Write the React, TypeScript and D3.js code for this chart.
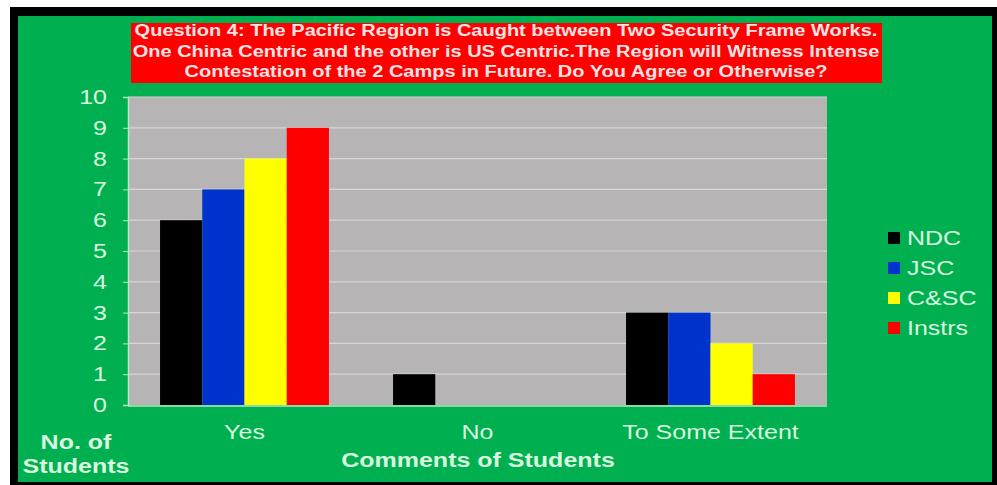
import * as d3 from "d3";
import { useEffect, useRef } from "react";

const categories = ["Yes", "No", "To Some Extent"];
const seriesNames = ["NDC", "JSC", "C&SC", "Instrs"];
const ndcValues = [6, 1, 3];
const jscValues = [7, 0, 3];
const cscValues = [8, 0, 2];
const instrsValues = [9, 0, 1];
const yTicks = [0, 1, 2, 3, 4, 5, 6, 7, 8, 9, 10];
const titleLines = [
  "Question 4: The Pacific Region is Caught between Two Security Frame Works.",
  "One China Centric and the other is US Centric.The Region will Witness Intense",
  "Contestation of the 2 Camps in Future. Do You Agree or Otherwise?",
];

const colors = ["#000000", "#0033cc", "#ffff00", "#ff0000"];
const textColor = "#d9f7df";
const font = "'Liberation Sans', Arial, sans-serif";
const stretch = 1.25; // the slide text is a bit wider than plain Arial

export default function App() {
  const svgRef = useRef<SVGSVGElement>(null);
  const width = 997;
  const height = 485;

  useEffect(() => {
    const svg = d3.select(svgRef.current);
    svg.selectAll("*").remove();

    const series = [ndcValues, jscValues, cscValues, instrsValues];
    const plot = { left: 128, right: 827, top: 97, bottom: 405 };

    // frame
    svg.append("rect").attr("x", 10).attr("y", 7).attr("width", 987).attr("height", 478).attr("fill", "#000");
    svg.append("rect").attr("x", 18).attr("y", 16).attr("width", 974).attr("height", 466).attr("fill", "#00b050");

    // title box
    svg.append("rect").attr("x", 131).attr("y", 23).attr("width", 751).attr("height", 60).attr("fill", "#ff0000");
    titleLines.forEach((t, i) => {
      svg.append("text")
        .attr("class", "stretch")
        .attr("x", 506)
        .attr("y", 36 + i * 20.5)
        .attr("text-anchor", "middle")
        .attr("font-family", font)
        .attr("font-weight", "bold")
        .attr("font-size", 16)
        .attr("fill", "#fbe3e3")
        .text(t);
    });

    const x0 = d3.scaleBand().domain(categories).range([plot.left, plot.right]).paddingInner(0.275).paddingOuter(0.1375);
    const x1 = d3.scaleBand().domain(seriesNames).range([0, x0.bandwidth()]);
    const y = d3.scaleLinear().domain([0, 10]).range([plot.bottom, plot.top]);

    svg.append("rect")
      .attr("x", plot.left).attr("y", plot.top)
      .attr("width", plot.right - plot.left).attr("height", plot.bottom - plot.top)
      .attr("fill", "#b7b4b5");

    // gridlines
    svg.append("g").selectAll("line").data(yTicks.filter(d => d > 0)).join("line")
      .attr("x1", plot.left).attr("x2", plot.right)
      .attr("y1", d => y(d)).attr("y2", d => y(d))
      .attr("stroke", "#d6d6d6").attr("stroke-width", 1.2);

    // bars
    seriesNames.forEach((name, si) => {
      svg.append("g").selectAll("rect").data(series[si]).join("rect")
        .attr("x", (_, i) => (x0(categories[i]) ?? 0) + (x1(name) ?? 0))
        .attr("y", d => y(d))
        .attr("width", x1.bandwidth())
        .attr("height", d => y(0) - y(d))
        .attr("fill", colors[si]);
    });

    // y axis
    const yAxis = svg.append("g").attr("transform", `translate(${plot.left},0)`)
      .call(d3.axisLeft(y).tickValues(yTicks).tickSize(5).tickPadding(16));
    yAxis.select(".domain").attr("stroke", "#b9e8c4").attr("stroke-width", 1.5);
    yAxis.selectAll(".tick line").attr("stroke", "#b9e8c4");
    yAxis.selectAll(".tick text")
      .attr("class", "stretch")
      .attr("font-family", font).attr("font-size", 20).attr("fill", textColor);

    // x axis
    svg.append("line")
      .attr("x1", plot.left).attr("x2", plot.right)
      .attr("y1", plot.bottom + 1).attr("y2", plot.bottom + 1)
      .attr("stroke", "#b9e8c4").attr("stroke-width", 1.5);
    svg.append("g").selectAll("text").data(categories).join("text")
      .attr("class", "stretch")
      .attr("x", d => (x0(d) ?? 0) + x0.bandwidth() / 2)
      .attr("y", 439)
      .attr("text-anchor", "middle")
      .attr("font-family", font).attr("font-size", 20).attr("fill", textColor)
      .text(d => d);

    svg.append("text")
      .attr("class", "stretch")
      .attr("x", 478).attr("y", 467)
      .attr("text-anchor", "middle")
      .attr("font-family", font).attr("font-weight", "bold").attr("font-size", 20).attr("fill", textColor)
      .text("Comments of Students");

    ["No. of", "Students"].forEach((t, i) => {
      svg.append("text")
        .attr("class", "stretch")
        .attr("x", 76).attr("y", 449 + i * 24)
        .attr("text-anchor", "middle")
        .attr("font-family", font).attr("font-weight", "bold").attr("font-size", 20).attr("fill", textColor)
        .text(t);
    });

    // legend
    seriesNames.forEach((name, i) => {
      const ly = 238 + i * 30;
      svg.append("rect").attr("x", 888).attr("y", ly - 6).attr("width", 12).attr("height", 12).attr("fill", colors[i]);
      svg.append("text")
        .attr("class", "stretch")
        .attr("x", 907).attr("y", ly + 7)
        .attr("font-family", font).attr("font-size", 20).attr("fill", textColor)
        .text(name);
    });

    // widen text to match the stretched look of the slide
    svg.selectAll<SVGTextElement, unknown>("text.stretch").each(function () {
      const w = this.getComputedTextLength();
      d3.select(this).attr("textLength", w * stretch).attr("lengthAdjust", "spacingAndGlyphs");
    });
  }, []);

  return (
    <svg
      ref={svgRef}
      width={width}
      height={height}
      style={{ position: "absolute", left: 0, top: 0, display: "block" }}
    />
  );
}
